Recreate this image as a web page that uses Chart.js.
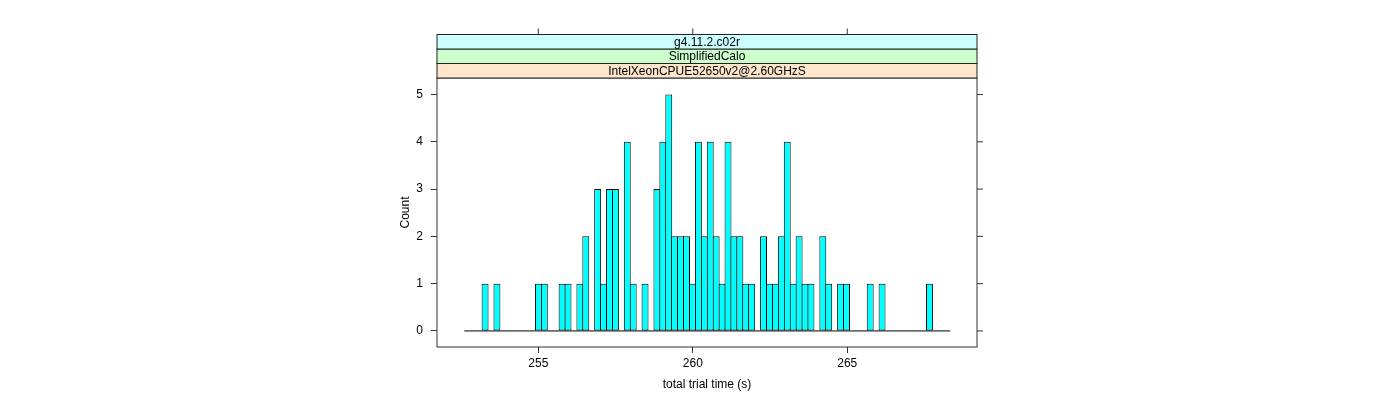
<!DOCTYPE html>
<html>
<head>
<meta charset="utf-8">
<script src="https://cdn.jsdelivr.net/npm/chart.js@4.4.1/dist/chart.umd.min.js"></script>
<style>
  body { margin: 0; background: #fff; }
</style>
</head>
<body>
<canvas id="histChart" width="1400" height="400"></canvas>
<script>
// histogram bins (seconds) and counts per bin
const binStart = 252.605;
const binWidth = 0.1918;
const counts = [
  0, 0, 0, 1, 0, 1, 0, 0, 0, 0,
  0, 0, 1, 1, 0, 0, 1, 1, 0, 1,
  2, 0, 3, 1, 3, 3, 0, 4, 1, 0,
  1, 0, 3, 4, 5, 2, 2, 2, 1, 4,
  2, 4, 2, 1, 4, 2, 2, 1, 1, 0,
  2, 1, 1, 2, 4, 1, 2, 1, 1, 0,
  2, 1, 0, 1, 1, 0, 0, 0, 1, 0,
  1, 0, 0, 0, 0, 0, 0, 0, 1, 0,
  0, 0
];
const xTicks = [255, 260, 265];
const yTicks = [0, 1, 2, 3, 4, 5];
const stripLabels = ["IntelXeonCPUE52650v2@2.60GHzS", "SimplifiedCalo", "g4.11.2.c02r"];
const stripColors = ["#FFE5CC", "#CCFFCC", "#CCFFFF"];

const binEnd = binStart + counts.length * binWidth;
const barData = counts.map((c, i) => ({ x: binStart + (i + 0.5) * binWidth, y: c }));

const FONT = "'Liberation Sans', Arial, Helvetica, sans-serif";

// lattice-style panel box, outer ticks and strips
const latticeFrame = {
  id: "latticeFrame",
  afterDraw(chart) {
    const { ctx, chartArea: a, scales } = chart;
    const stripH = 14.5;
    ctx.save();
    ctx.strokeStyle = "#333";
    ctx.lineWidth = 1;
    ctx.strokeRect(a.left, a.top, a.right - a.left, a.bottom - a.top);

    // right side ticks
    yTicks.forEach(v => {
      const y = scales.y.getPixelForValue(v);
      ctx.beginPath();
      ctx.moveTo(a.right, y);
      ctx.lineTo(a.right + 6, y);
      ctx.stroke();
    });

    // strips
    ctx.font = "12px " + FONT;
    ctx.textAlign = "center";
    ctx.textBaseline = "middle";
    stripLabels.forEach((lab, i) => {
      const top = a.top - (i + 1) * stripH;
      ctx.fillStyle = stripColors[i];
      ctx.fillRect(a.left, top, a.right - a.left, stripH);
      ctx.strokeStyle = "#222";
      ctx.strokeRect(a.left, top, a.right - a.left, stripH);
      ctx.fillStyle = "#000";
      ctx.fillText(lab, (a.left + a.right) / 2, top + stripH / 2 + 0.5);
    });

    // top ticks above the strips
    const stripTop = a.top - stripLabels.length * stripH;
    ctx.strokeStyle = "#333";
    xTicks.forEach(v => {
      const x = scales.x.getPixelForValue(v);
      ctx.beginPath();
      ctx.moveTo(x, stripTop);
      ctx.lineTo(x, stripTop - 6);
      ctx.stroke();
    });
    ctx.restore();
  }
};

const ctx = document.getElementById("histChart").getContext("2d");
new Chart(ctx, {
  type: "bar",
  data: {
    datasets: [
      {
        data: barData,
        backgroundColor: "#00FFFF",
        borderColor: "#000",
        borderWidth: 1,
        borderSkipped: false,
        barPercentage: (binWidth * 30.9 + 1) / (binWidth * 30.9),
        categoryPercentage: 1,
        grouped: false
      },
      {
        type: "line",
        data: [{ x: binStart, y: 0 }, { x: binEnd, y: 0 }],
        borderColor: "#000",
        borderWidth: 1,
        pointRadius: 0
      }
    ]
  },
  options: {
    responsive: false,
    animation: false,
    layout: { padding: { left: 393, right: 423, top: 78, bottom: 4 } },
    plugins: {
      legend: { display: false },
      tooltip: { enabled: false }
    },
    scales: {
      x: {
        type: "linear",
        min: 251.72,
        max: 269.2,
        offset: false,
        afterFit: s => { s.height = 49; },
        afterBuildTicks: s => { s.ticks = xTicks.map(v => ({ value: v })); },
        border: { display: false },
        grid: { offset: false, drawOnChartArea: false, drawTicks: true, tickLength: 6, color: "#333" },
        ticks: { color: "#000", font: { family: FONT, size: 12 }, padding: 3, maxRotation: 0 },
        title: { display: true, text: "total trial time (s)", color: "#000", font: { family: FONT, size: 12 } }
      },
      y: {
        min: -0.34,
        max: 5.35,
        afterFit: s => { s.width = 44; },
        afterBuildTicks: s => { s.ticks = yTicks.map(v => ({ value: v })); },
        border: { display: false },
        grid: { drawOnChartArea: false, drawTicks: true, tickLength: 6, color: "#333" },
        ticks: { color: "#000", font: { family: FONT, size: 12 }, padding: 8 },
        title: { display: true, text: "Count", color: "#000", font: { family: FONT, size: 12 }, padding: { top: 5, bottom: 4 } }
      }
    }
  },
  plugins: [latticeFrame]
});
</script>
</body>
</html>
